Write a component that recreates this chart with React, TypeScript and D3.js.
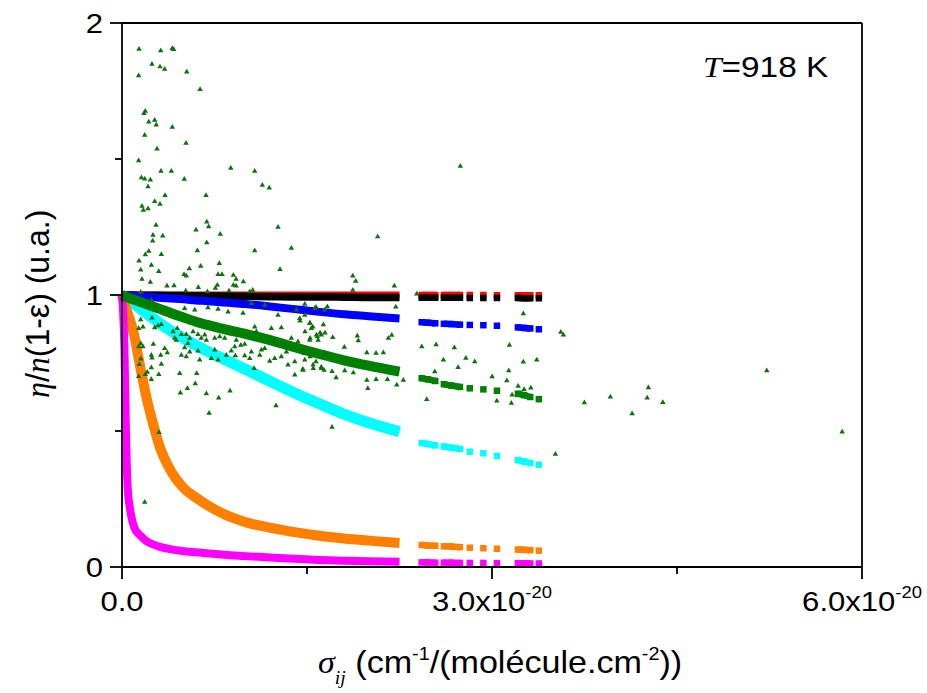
import React from "react";
import * as d3 from "d3";

// x values in units of 1e-20 cm^-1/(molecule.cm^-2)
const MAIN_X = [0, 0.01, 0.02, 0.03, 0.045, 0.07, 0.1, 0.15, 0.2, 0.25, 0.3, 0.4, 0.5, 0.6, 0.7, 0.8, 1.0, 1.2, 1.4, 1.6, 1.8, 2.0, 2.25];
const TAIL_SEGMENTS = [[2.43, 2.48, 2.54], [2.61, 2.67, 2.74], [2.82], [2.93], [3.04], [3.21, 3.26, 3.31], [3.38]];

const RED_MAIN = [1, 1, 1, 1, 1, 1, 1, 1, 1, 1, 1, 1, 1, 1, 1, 1, 1, 1, 1, 1, 1, 1, 1];
const RED_TAIL = [1, 1, 1, 1, 1, 1, 1, 1, 0.999, 0.999, 0.999, 0.999, 0.999];
const BLACK_MAIN = [1, 1, 1, 1, 1, 1, 1, 0.999, 0.999, 0.999, 0.999, 0.998, 0.998, 0.997, 0.997, 0.996, 0.995, 0.994, 0.993, 0.993, 0.992, 0.991, 0.991];
const BLACK_TAIL = [0.99, 0.99, 0.99, 0.99, 0.99, 0.99, 0.989, 0.989, 0.989, 0.989, 0.988, 0.988, 0.988];
const BLUE_MAIN = [1, 1, 1, 0.999, 0.999, 0.998, 0.997, 0.996, 0.994, 0.992, 0.99, 0.987, 0.984, 0.98, 0.977, 0.973, 0.967, 0.958, 0.948, 0.938, 0.929, 0.922, 0.914];
const BLUE_TAIL = [0.9, 0.898, 0.896, 0.894, 0.893, 0.891, 0.89, 0.889, 0.887, 0.881, 0.879, 0.877, 0.874];
const GREEN_MAIN = [1, 0.998, 0.996, 0.994, 0.991, 0.987, 0.982, 0.974, 0.966, 0.958, 0.95, 0.933, 0.917, 0.902, 0.889, 0.877, 0.857, 0.834, 0.808, 0.783, 0.76, 0.74, 0.718];
const GREEN_TAIL = [0.694, 0.69, 0.684, 0.672, 0.667, 0.662, 0.657, 0.653, 0.648, 0.637, 0.632, 0.625, 0.617];
const CYAN_MAIN = [1, 0.997, 0.993, 0.99, 0.985, 0.977, 0.966, 0.949, 0.932, 0.915, 0.898, 0.867, 0.84, 0.815, 0.792, 0.77, 0.727, 0.683, 0.64, 0.6, 0.562, 0.53, 0.497];
const CYAN_TAIL = [0.456, 0.452, 0.447, 0.443, 0.439, 0.434, 0.424, 0.418, 0.408, 0.393, 0.388, 0.382, 0.376];
const ORANGE_MAIN = [1, 0.985, 0.97, 0.955, 0.935, 0.9, 0.85, 0.73, 0.62, 0.53, 0.45, 0.35, 0.29, 0.255, 0.225, 0.2, 0.165, 0.145, 0.128, 0.115, 0.105, 0.097, 0.088];
const ORANGE_TAIL = [0.081, 0.079, 0.078, 0.076, 0.075, 0.073, 0.071, 0.069, 0.067, 0.064, 0.063, 0.062, 0.06];
const MAGENTA_MAIN = [1, 0.93, 0.8, 0.55, 0.3, 0.2, 0.145, 0.115, 0.095, 0.083, 0.075, 0.065, 0.058, 0.054, 0.05, 0.046, 0.04, 0.035, 0.03, 0.026, 0.023, 0.021, 0.019];
const MAGENTA_TAIL = [0.017, 0.017, 0.016, 0.016, 0.016, 0.015, 0.015, 0.015, 0.014, 0.014, 0.014, 0.013, 0.013];

// scattered triangles [x, y]
const TRIANGLES: [number, number][] = [
  [0.138, 1.904], [0.314, 1.898], [0.408, 1.907], [0.419, 1.903], [0.243, 1.849], [0.308, 1.839], [0.346, 1.83], [0.525, 1.82],
  [0.135, 1.806], [0.633, 1.756], [0.189, 1.676], [0.178, 1.668], [0.217, 1.636], [0.265, 1.643], [0.278, 1.625], [0.408, 1.617],
  [0.184, 1.588], [0.519, 1.558], [0.284, 1.537], [0.135, 1.494], [0.882, 1.466], [1.076, 1.455], [0.316, 1.455], [0.4, 1.455],
  [0.157, 1.431], [0.184, 1.427], [0.23, 1.423], [0.505, 1.426], [0.211, 1.398], [1.138, 1.404], [1.194, 1.394], [0.349, 1.366],
  [0.681, 1.366], [0.265, 1.344], [0.308, 1.334], [0.162, 1.327], [0.173, 1.312], [0.211, 1.317], [0.276, 1.257], [0.687, 1.269],
  [0.703, 1.251], [0.6, 1.239], [1.265, 1.249], [0.251, 1.22], [0.33, 1.217], [0.249, 1.199], [0.797, 1.224], [0.687, 1.192],
  [0.217, 1.161], [0.189, 1.148], [0.319, 1.149], [0.611, 1.163], [1.076, 1.163], [1.373, 1.172], [0.138, 1.125], [0.238, 1.11],
  [0.789, 1.116], [0.638, 1.106], [0.546, 1.097], [1.281, 1.094], [0.152, 1.092], [0.298, 1.087], [0.503, 1.076], [0.521, 1.07],
  [0.779, 1.076], [0.811, 1.076], [0.903, 1.073], [0.162, 1.058], [0.23, 1.047], [0.925, 1.058], [0.984, 1.049], [0.365, 1.033],
  [0.422, 1.034], [0.619, 1.028], [0.773, 1.036], [0.757, 1.025], [0.903, 1.036], [0.925, 1.033], [0.152, 1.01], [0.517, 1.015],
  [0.692, 1.012], [0.868, 1.015], [1.036, 1.012], [1.06, 1.018],
  [2.743, 1.474], [2.073, 1.214], [1.871, 1.07], [1.895, 1.051], [1.871, 1.018], [2.208, 1.033], [2.39, 1.004], [1.482, 0.966],
  [1.573, 0.955], [1.665, 0.957], [2.22, 0.956], [3.254, 0.931], [1.444, 0.905], [1.525, 0.896], [1.547, 0.883], [1.633, 0.891],
  [1.484, 0.865], [1.525, 0.841], [1.584, 0.847], [1.606, 0.861], [1.646, 0.861], [1.709, 0.844], [1.908, 0.85], [1.916, 0.832],
  [2.187, 0.852], [2.16, 0.841], [1.803, 0.808], [2.431, 0.81], [2.547, 0.817], [2.695, 0.806], [3.141, 0.816], [1.476, 0.786],
  [1.525, 0.773], [1.573, 0.755], [1.641, 0.788], [1.985, 0.788], [2.06, 0.786], [2.119, 0.788], [2.606, 0.761], [2.788, 0.768],
  [2.86, 0.755], [3.254, 0.754], [3.363, 0.761], [1.551, 0.73], [1.466, 0.727], [1.616, 0.73], [1.703, 0.719], [1.806, 0.722],
  [1.876, 0.714], [2.725, 0.734], [3.136, 0.722], [2.536, 0.718], [1.736, 0.696], [1.985, 0.687], [2.06, 0.69], [2.152, 0.69],
  [2.281, 0.687], [3.001, 0.7], [3.12, 0.685], [1.993, 0.657], [2.228, 0.669], [3.212, 0.665], [3.26, 0.653], [3.315, 0.658],
  [3.163, 0.633], [2.471, 0.616], [3.039, 0.611], [3.157, 0.602], [1.703, 0.514], [3.514, 0.415],
  [3.558, 0.863], [3.579, 0.853], [3.749, 0.604], [3.96, 0.625], [4.268, 0.659], [4.258, 0.622], [4.385, 0.605], [4.136, 0.564],
  [5.228, 0.722], [5.839, 0.497],
  [0.152, 0.909], [0.243, 0.916], [0.135, 0.877], [0.17, 0.883], [0.265, 0.88], [0.292, 0.887], [0.319, 0.892], [0.152, 0.822],
  [0.135, 0.81], [0.17, 0.81], [0.254, 0.819], [0.346, 0.804], [0.367, 0.788], [0.238, 0.779], [0.243, 0.769], [0.314, 0.779],
  [0.152, 0.765], [0.14, 0.745], [0.319, 0.746], [0.238, 0.733], [0.205, 0.716], [0.189, 0.708], [0.298, 0.708], [0.135, 0.701],
  [0.238, 0.69], [0.468, 0.712], [0.606, 0.712], [0.594, 0.674], [0.53, 0.657], [0.473, 0.64], [0.684, 0.637], [0.784, 0.622],
  [0.876, 0.647], [0.706, 0.566], [1.249, 0.593], [0.3, 0.495], [0.184, 0.238],
  [0.414, 0.865], [0.448, 0.877], [0.481, 0.855], [0.427, 0.841], [0.44, 0.834], [0.521, 0.855], [0.549, 0.841], [0.535, 0.822],
  [0.576, 0.865], [0.616, 0.855], [0.643, 0.841], [0.671, 0.853], [0.684, 0.834], [0.508, 0.806], [0.549, 0.791], [0.481, 0.779],
  [0.521, 0.773], [0.616, 0.794], [0.63, 0.761], [0.752, 0.841], [0.792, 0.847], [0.833, 0.841], [0.752, 0.798], [0.779, 0.761],
  [0.724, 0.767], [0.846, 0.779], [0.886, 0.794], [0.914, 0.81], [0.919, 0.777], [0.927, 0.834], [0.963, 0.816], [0.995, 0.819],
  [0.995, 0.777], [1.036, 0.767], [1.049, 0.791], [1.071, 0.73], [1.076, 0.883], [1.089, 0.865], [1.13, 0.798], [1.157, 0.804],
  [1.117, 0.779], [1.211, 0.877], [1.292, 0.88], [1.238, 0.834], [1.198, 0.757], [1.238, 0.767], [1.292, 0.773], [1.319, 0.81],
  [1.333, 0.791], [1.373, 0.841], [1.427, 0.828], [1.346, 0.743], [1.401, 0.755], [1.468, 0.724], [1.522, 0.896], [1.535, 0.877],
  [1.576, 0.853], [1.616, 0.853], [1.59, 0.834], [1.522, 0.834], [1.482, 0.761], [1.549, 0.743], [1.616, 0.736], [1.638, 0.724],
  [1.401, 0.706], [1.441, 0.914], [1.482, 0.926],
  [0.238, 0.981], [0.508, 0.951], [0.59, 0.945], [0.697, 0.953], [0.779, 0.948], [0.86, 0.938], [0.981, 0.933], [1.049, 0.969],
  [1.157, 0.963], [1.265, 0.926], [1.414, 0.945], [1.563, 0.951], [1.644, 0.945],
];

const Y_TICKS = [0, 1, 2];
const Y_MINOR = [0.5, 1.5];
const X_TICKS = [0, 3, 6];
const X_MINOR = [1.5, 4.5];
const X_TICK_LABELS = ["0.0", "3.0x10", "6.0x10"];
const X_TICK_EXP = ["", "-20", "-20"];

const SANS = "'Liberation Sans', Arial, sans-serif";
const SERIF = "'Liberation Serif', 'Times New Roman', serif";
const SX = 1.15;
const SXT = 1.1;

export default function App() {
  const L = 122, R = 862, T = 23, B = 567;
  const x = d3.scaleLinear().domain([0, 6]).range([L, R]);
  const y = d3.scaleLinear().domain([0, 2]).range([B, T]);
  const line = d3
    .line<[number, number]>()
    .x((d) => x(d[0]))
    .y((d) => y(d[1]))
    .curve(d3.curveMonotoneX);
  const straight = d3
    .line<[number, number]>()
    .x((d) => x(d[0]))
    .y((d) => y(d[1]));

  const series = [
    { color: "#ff0000", main: RED_MAIN, tail: RED_TAIL, w: 7 },
    { color: "#000000", main: BLACK_MAIN, tail: BLACK_TAIL, w: 7.5 },
    { color: "#0000ff", main: BLUE_MAIN, tail: BLUE_TAIL, w: 8 },
    { color: "#00ffff", main: CYAN_MAIN, tail: CYAN_TAIL, w: 11 },
    { color: "#ff8000", main: ORANGE_MAIN, tail: ORANGE_TAIL, w: 10 },
    { color: "#ff00ff", main: MAGENTA_MAIN, tail: MAGENTA_TAIL, w: 8 },
    { color: "#008000", main: GREEN_MAIN, tail: GREEN_TAIL, w: 10 },
  ];

  const SQ = 6.5;
  const tri = d3.symbol(d3.symbolTriangle, 13)();

  const renderSeries = (s: (typeof series)[number], i: number) => {
    const mainPts: [number, number][] = MAIN_X.map((xv, k) => [xv, s.main[k]]);
    let offset = 0;
    const segs = TAIL_SEGMENTS.map((seg) => {
      const pts: [number, number][] = seg.map((xv, k) => [xv, s.tail[offset + k]]);
      offset += seg.length;
      return pts;
    });
    return (
      <g key={i}>
        <path d={line(mainPts) || ""} fill="none" stroke={s.color} strokeWidth={s.w} />
        {segs.map((pts, j) => (
          <g key={j}>
            {pts.length > 1 && (
              <path d={straight(pts) || ""} fill="none" stroke={s.color} strokeWidth={SQ} />
            )}
            {pts.map((p, k) => (
              <rect key={k} x={x(p[0]) - SQ / 2} y={y(p[1]) - SQ / 2} width={SQ} height={SQ} fill={s.color} />
            ))}
          </g>
        ))}
      </g>
    );
  };

  return (
    <svg
      width={927}
      height={693}
      style={{ position: "absolute", left: 0, top: 0, background: "#fff" }}
    >
      <rect x={0} y={0} width={927} height={693} fill="#fff" />
      {series.map(renderSeries)}
      {TRIANGLES.map((p, i) => (
        <path key={i} d={tri || ""} transform={`translate(${x(p[0])},${y(p[1])})`} fill="#107010" />
      ))}

      {/* frame */}
      <g stroke="#000" strokeWidth={1.8} fill="none">
        <line x1={L} y1={T} x2={R} y2={T} />
        <line x1={R} y1={T} x2={R} y2={B} />
        <line x1={L} y1={T} x2={L} y2={B} />
        <line x1={L} y1={B} x2={R} y2={B} />
        {Y_TICKS.map((t) => (
          <line key={"yt" + t} x1={L - 12} x2={L} y1={y(t)} y2={y(t)} />
        ))}
        {Y_MINOR.map((t) => (
          <line key={"ym" + t} x1={L - 7} x2={L} y1={y(t)} y2={y(t)} />
        ))}
        {X_TICKS.map((t) => (
          <line key={"xt" + t} x1={x(t)} x2={x(t)} y1={B} y2={B + 12} />
        ))}
        {X_MINOR.map((t) => (
          <line key={"xm" + t} x1={x(t)} x2={x(t)} y1={B} y2={B + 7} />
        ))}
      </g>

      {/* tick labels */}
      <g fontFamily={SANS} fontSize={27} fill="#000">
        {Y_TICKS.map((t) => (
          <text key={"yl" + t} transform={`translate(${L - 19},${y(t) + 10}) scale(${SX},1)`} textAnchor="end">
            {String(t)}
          </text>
        ))}
        {X_TICKS.map((t, i) => (
          <text key={"xl" + t} transform={`translate(${x(t)},${B + 44}) scale(${SX},1)`} textAnchor="middle">
            {X_TICK_LABELS[i]}
            {X_TICK_EXP[i] && (
              <tspan dy={-13} fontSize={16}>
                {X_TICK_EXP[i]}
              </tspan>
            )}
          </text>
        ))}
      </g>

      {/* annotation */}
      <text transform={`translate(703,77) scale(${SX},1)`} fontFamily={SANS} fontSize={29}>
        <tspan fontFamily={SERIF} fontStyle="italic">T</tspan>=918 K
      </text>

      {/* x title */}
      <text transform={`translate(318,673) scale(${SXT},1)`} fontFamily={SANS} fontSize={31}>
        <tspan fontFamily={SERIF} fontStyle="italic">σ</tspan>
        <tspan fontFamily={SERIF} fontStyle="italic" fontSize={18} dy={11}>ij</tspan>
        <tspan dy={-11}>{" (cm"}</tspan>
        <tspan fontSize={18} dy={-13}>-1</tspan>
        <tspan dy={13}>/(molécule.cm</tspan>
        <tspan fontSize={18} dy={-13}>-2</tspan>
        <tspan dy={13}>))</tspan>
      </text>

      {/* y title */}
      <text transform={`translate(49,398) scale(1.05,1) rotate(-90)`} fontFamily={SANS} fontSize={32}>
        <tspan fontFamily={SERIF} fontStyle="italic">η</tspan>
        <tspan>/</tspan>
        <tspan fontFamily={SERIF} fontStyle="italic">n</tspan>
        <tspan>(1-ε) (u.a.)</tspan>
      </text>
    </svg>
  );
}
